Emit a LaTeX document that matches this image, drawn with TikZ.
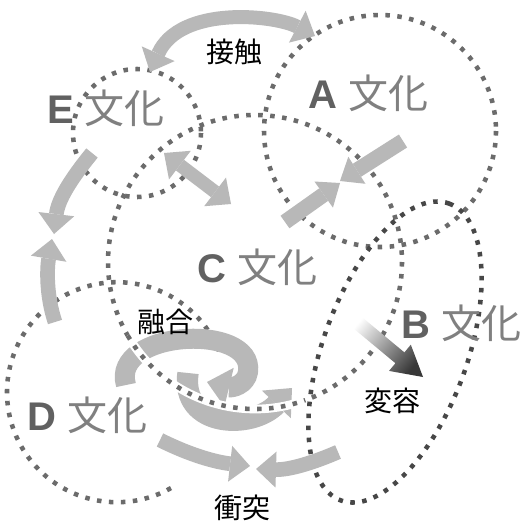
\documentclass[tikz,border=0pt]{standalone}
\usepackage{fontspec}
\setmainfont{Liberation Sans}
\newfontfamily\jp{Noto Sans CJK JP}
\usetikzlibrary{arrows.meta}
\begin{document}
\begin{tikzpicture}[x=0.75pt,y=-0.75pt,
  dotc/.style={draw=black!58, line width=3.4pt, dash pattern=on 3.4pt off 5.6pt},
  dotb/.style={draw=black!72, line width=3.4pt, dash pattern=on 3.4pt off 5.6pt},
  halo/.style={draw=white, line width=6.5pt},
  garrow/.style={draw=black!28, line width=#1, line cap=butt},
  tip/.style={-{Triangle[width=27pt,length=15pt,line width=0pt]}},
  tipb/.style={{Triangle[width=27pt,length=15pt,line width=0pt]}-{Triangle[width=27pt,length=15pt,line width=0pt]}},
  tipw/.style={-{Triangle[width=30pt,length=17pt,line width=0pt]}},
  lbl/.style={font=\jp\fontsize{21}{21}\selectfont, text=black, inner sep=0pt},
  cult/.style={inner sep=0pt, font=\fontsize{30}{30}\selectfont},
]
\useasboundingbox (0,0) rectangle (523,521);
\fill[white] (0,0) rectangle (523,521);

% culture circles
\draw[dotc] (380,131) circle [radius=116];
\draw[dotc] (255,262) circle [radius=147];
\draw[dotc] (137,133) circle [radius=64];
\draw[dotc] (219,351) arc[start angle=-22, end angle=-302, radius=110];
\draw[dotb, rotate around={70:(395,352)}] (395,352) ellipse [x radius=158, y radius=72];

% arrow end points
\coordinate (k1) at (150,72);  \coordinate (k2) at (315,36);
\coordinate (e1) at (92,153);  \coordinate (e2) at (54,234);
\coordinate (d1) at (55,322);  \coordinate (d2) at (52,239);
\coordinate (ec1) at (164,153); \coordinate (ec2) at (231,204);
\coordinate (a1) at (403,141); \coordinate (a2) at (340,181);
\coordinate (c1) at (285,222); \coordinate (c2) at (340,183);
\coordinate (s1) at (160,440); \coordinate (s2) at (250,466);
\coordinate (s3) at (338,452); \coordinate (s4) at (256,469);
\coordinate (f1) at (126,385); \coordinate (f2) at (207,382);
\coordinate (g1) at (188,373); \coordinate (g2) at (292,388);

% grey block arrows
\draw[garrow=10.5pt, tipb] (k1) .. controls (180,5) and (275,15) .. (k2);
\draw[garrow=11pt, tip] (e1) .. controls (70,180) and (58,200) .. (e2);
\draw[garrow=11pt, tip] (d1) .. controls (46,295) and (47,268) .. (d2);
\draw[garrow=10pt, tipb] (ec1) -- (ec2);
\draw[garrow=11.5pt, -{Triangle[width=24pt,length=15pt,line width=0pt]}] (a1) -- (a2);
\draw[garrow=11.5pt, -{Triangle[width=24pt,length=15pt,line width=0pt]}] (c1) -- (c2);
\draw[garrow=11pt, tip] (s1) .. controls (190,455) and (215,462) .. (s2);
\draw[garrow=11pt, tip] (s3) .. controls (315,462) and (290,470) .. (s4);
\draw[garrow=15pt, tipw] (f1) .. controls (110,330) and (255,322) .. (248,372) .. controls (246,385) and (232,388) .. (f2);
\draw[garrow=16pt, tipw] (g1) .. controls (180,428) and (252,430) .. (g2);

% gradient arrow (change)
\shade[left color=white, right color=black!78, shading angle=50]
  (347.5,323.4) -- (356.5,312.6) -- (404.4,352.4) -- (410.8,344.7) -- (423,377)
  -- (389.0,370.9) -- (395.4,363.2) -- cycle;

% C circle passing over the fusion arrows
\draw[halo] (255,262) ++(150:147) arc[start angle=150, end angle=70, radius=147];
\draw[dotc] (255,262) ++(150:147) arc[start angle=150, end angle=70, radius=147];

% labels
\node[lbl] (tk) at (234,52) {接触};
\node[lbl] (ty) at (165,322) {融合};
\node[lbl] (th) at (392,401) {変容};
\node[lbl] (ts) at (242,508) {衝突};

\node[cult] (E) at (106,108) {{\bfseries\color{black!62}E} {\jp\color{black!50}文化}};
\node[cult] (A) at (368,93) {{\bfseries\color{black!62}A} {\jp\color{black!50}文化}};
\node[cult] (C) at (257,267) {{\bfseries\color{black!62}C} {\jp\color{black!50}文化}};
\node[cult] (B) at (461,323) {{\bfseries\color{black!62}B} {\jp\color{black!50}文化}};
\node[cult] (D) at (87,415) {{\bfseries\color{black!62}D} {\jp\color{black!50}文化}};
\end{tikzpicture}
\end{document}
